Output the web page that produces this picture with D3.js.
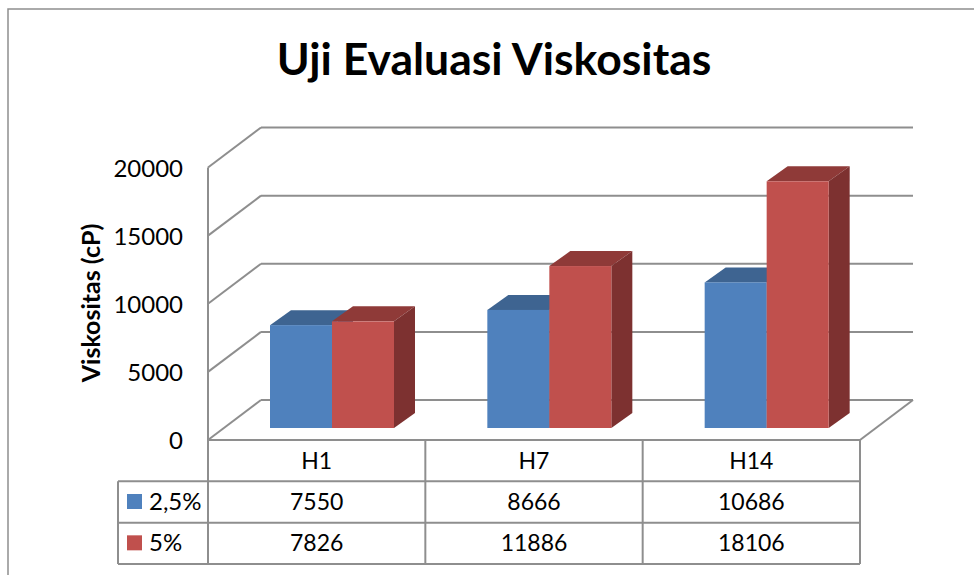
<!DOCTYPE html>
<html>
<head>
<meta charset="utf-8">
<script src="https://cdn.jsdelivr.net/npm/d3@7"></script>
<style>
    html, body { margin: 0; padding: 0; background: #fff; }
    svg { display: block; }
    text { font-family: Lato, "Open Sans", sans-serif; fill: #000; }
</style>
</head>
<body>
<div id="chart"></div>
<script>
const categories = ['H1', 'H7', 'H14'];
const seriesNames = ['2,5%', '5%'];
const series1 = [7550, 8666, 10686];
const series2 = [7826, 11886, 18106];
const yTicks = [0, 5000, 10000, 15000, 20000];

const allSeries = [series1, series2];
const FRONT = ['#4f81bd', '#c0504d'];
const TOP = ['#3e6491', '#8f3a38'];
const SIDE = ['#375a85', '#7d3130'];
const LINE = '#8e8e8e';

const width = 974;
const height = 575;

// wall depth and bar depth of the fake 3d box
const wallDx = 53;
const wallDy = -40;
const barDx = 21;
const barDy = -15;
const barBase = 428;

const svg = d3.select('#chart').append('svg')
    .attr('width', width)
    .attr('height', height);

const x = d3.scaleBand().domain(categories).range([208, 860]);
const inner = d3.scaleBand().domain(d3.range(allSeries.length)).range([62, 186]);
const y = d3.scaleLinear().domain([0, 20000]).range([440, 167.5]);

const poly = pts => d3.line()(pts) + 'Z';
const line = (g, x1, y1, x2, y2) => g.append('line')
    .attr('x1', x1).attr('y1', y1).attr('x2', x2).attr('y2', y2)
    .attr('stroke', LINE).attr('stroke-width', 2);

// outer frame, only top and left are in the crop
svg.append('path')
    .attr('d', d3.line()([[8, height], [8, 9], [width, 9]]))
    .attr('fill', 'none')
    .attr('stroke', LINE)
    .attr('stroke-width', 1.5);

svg.append('text')
    .attr('x', 494)
    .attr('y', 75)
    .attr('text-anchor', 'middle')
    .attr('font-size', 44.5)
    .attr('font-weight', 700)
    .text('Uji Evaluasi Viskositas');

// walls and gridlines
const walls = svg.append('g');
line(walls, x.range()[0], y(20000), x.range()[0], y(0));
yTicks.forEach(t => {
    line(walls, x.range()[0], y(t), x.range()[0] + wallDx, y(t) + wallDy);
    line(walls, x.range()[0] + wallDx, y(t) + wallDy, x.range()[1] + wallDx, y(t) + wallDy);
});
line(walls, x.range()[1] + wallDx, y(0) + wallDy, x.range()[1], y(0));
line(walls, x.range()[0], y(0), x.range()[1], y(0));

const yAxis = d3.axisLeft(y).tickValues(yTicks).tickFormat(d3.format('d')).tickSize(0);
const yGroup = svg.append('g')
    .attr('transform', 'translate(183,0)')
    .call(yAxis);
yGroup.select('.domain').remove();
yGroup.selectAll('text')
    .attr('x', 0)
    .attr('dy', '0.36em')
    .attr('font-size', 24);

svg.append('text')
    .attr('transform', 'translate(100,303) rotate(-90)')
    .attr('text-anchor', 'middle')
    .attr('font-size', 25)
    .attr('font-weight', 700)
    .text('Viskositas (cP)');

// bars, each one is three polygons
const h = v => y(0) - y(v);
categories.forEach((cat, c) => {
    allSeries.forEach((values, s) => {
        const x0 = x(cat) + inner(s);
        const x1 = x0 + inner.bandwidth();
        const top = barBase - h(values[c]);
        const g = svg.append('g');
        g.append('path')
            .attr('fill', TOP[s])
            .attr('d', poly([[x0, top], [x0 + barDx, top + barDy], [x1 + barDx, top + barDy], [x1, top]]));
        g.append('path')
            .attr('fill', SIDE[s])
            .attr('d', poly([[x1, top], [x1 + barDx, top + barDy], [x1 + barDx, barBase + barDy], [x1, barBase]]));
        g.append('rect')
            .attr('fill', FRONT[s])
            .attr('x', x0)
            .attr('y', top)
            .attr('width', x1 - x0)
            .attr('height', barBase - top);
    });
});

// data table below the plot
const rowY = d3.scaleBand().domain(d3.range(3)).range([440, 564]);
const table = svg.append('g');
categories.forEach(cat => {
    line(table, x(cat), rowY(0), x(cat), rowY(2) + rowY.bandwidth());
});
line(table, x.range()[1], rowY(0), x.range()[1], rowY(2) + rowY.bandwidth());
line(table, 118, rowY(1), 118, rowY(2) + rowY.bandwidth());
line(table, 118, rowY(1), x.range()[1], rowY(1));
line(table, 118, rowY(2), x.range()[1], rowY(2));
line(table, 118, rowY(2) + rowY.bandwidth(), x.range()[1], rowY(2) + rowY.bandwidth());

const cell = (label, cx, r) => table.append('text')
    .attr('x', cx)
    .attr('y', rowY(r) + rowY.bandwidth() / 2 + 8)
    .attr('text-anchor', 'middle')
    .attr('font-size', 23)
    .text(label);

categories.forEach((cat, c) => {
    cell(cat, x(cat) + x.bandwidth() / 2, 0);
    allSeries.forEach((values, s) => cell(values[c], x(cat) + x.bandwidth() / 2, s + 1));
});

seriesNames.forEach((name, s) => {
    const cy = rowY(s + 1) + rowY.bandwidth() / 2;
    table.append('rect')
        .attr('x', 127).attr('y', cy - 8)
        .attr('width', 15).attr('height', 15)
        .attr('fill', FRONT[s]);
    table.append('text')
        .attr('x', 149)
        .attr('y', cy + 8)
        .attr('font-size', 24)
        .text(name);
});
</script>
</body>
</html>
